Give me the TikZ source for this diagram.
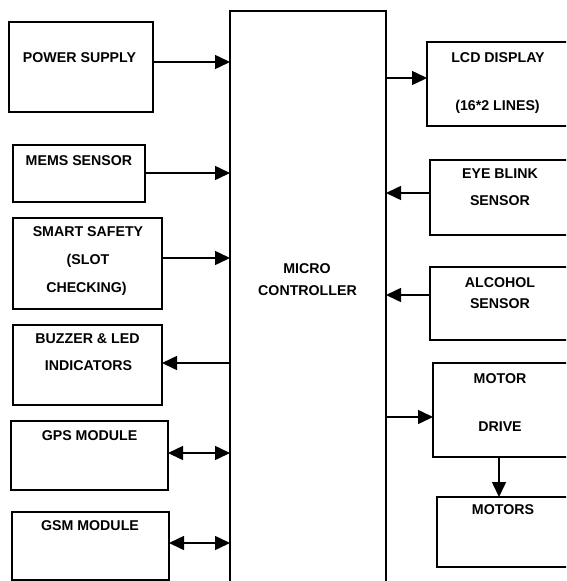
\documentclass[tikz,border=0pt]{standalone}
\usepackage{fontspec}
\setmainfont{Liberation Sans}
\usetikzlibrary{arrows.meta}
\tikzset{
  blk/.style={draw=black, line width=1.2pt, inner sep=0pt, outer sep=0pt},
  lbl/.style={font=\fontsize{14.2}{17}\selectfont\bfseries, inner sep=0pt, anchor=center},
  arr/.style={line width=1.5pt, -{Triangle[length=15pt,width=14pt]}},
  darr/.style={line width=1.5pt, {Triangle[length=15pt,width=14pt]}-{Triangle[length=15pt,width=14pt]}}
}
\begin{document}
\begin{tikzpicture}[x=1pt,y=-1pt]
\useasboundingbox (0,0) rectangle (566,581);
\clip (0,0) rectangle (566,581);
\fill[white] (0,0) rectangle (566,581);
% boxes
\node[blk, minimum width=144pt, minimum height=90pt] (ps) at (81,67) {};
\node[blk, minimum width=132pt, minimum height=57pt] (mems) at (79,173.5) {};
\node[blk, minimum width=149pt, minimum height=91pt] (ss) at (87.5,263.5) {};
\node[blk, minimum width=149pt, minimum height=80pt] (bz) at (87.5,365) {};
\node[blk, minimum width=157pt, minimum height=69pt] (gps) at (89.5,455.5) {};
\node[blk, minimum width=157pt, minimum height=68pt] (gsm) at (90.5,546) {};
\node[blk, minimum width=156pt, minimum height=579pt] (mc) at (308,300.5) {};
\node[blk, minimum width=141pt, minimum height=84pt] (lcd) at (497.5,84) {};
\node[blk, minimum width=138pt, minimum height=75pt] (eye) at (499,197.5) {};
\node[blk, minimum width=138pt, minimum height=73pt] (alc) at (499,303.5) {};
\node[blk, minimum width=135pt, minimum height=94pt] (md) at (500.5,410) {};
\node[blk, minimum width=131pt, minimum height=70pt] (mot) at (502.5,532) {};
% texts
\node[lbl] (t1) at (79.5,58) {POWER SUPPLY};
\node[lbl] (t2) at (79,161) {MEMS SENSOR};
\node[lbl] (t3a) at (88,232) {SMART SAFETY};
\node[lbl] (t3b) at (88,261) {(SLOT};
\node[lbl] (t3c) at (86.5,289) {CHECKING)};
\node[lbl] (t4a) at (87.5,339) {BUZZER \& LED};
\node[lbl] (t4b) at (88.5,366) {INDICATORS};
\node[lbl] (t5) at (89.5,436) {GPS MODULE};
\node[lbl] (t6) at (90,526) {GSM MODULE};
\node[lbl] (t7a) at (307,268.5) {MICRO};
\node[lbl] (t7b) at (307.5,290.5) {CONTROLLER};
\node[lbl] (t8a) at (498,58) {LCD DISPLAY};
\node[lbl] (t8b) at (497.5,107) {(16*2 LINES)};
\node[lbl] (t9a) at (500,174) {EYE BLINK};
\node[lbl] (t9b) at (500,201) {SENSOR};
\node[lbl] (t10a) at (500,283) {ALCOHOL};
\node[lbl] (t10b) at (500,304) {SENSOR};
\node[lbl] (t11a) at (500,379) {MOTOR};
\node[lbl] (t11b) at (500,427) {DRIVE};
\node[lbl] (t12) at (503,510) {MOTORS};
% connectors
\draw[arr] (ps.east |- 0,62) -- (mc.west |- 0,62);
\draw[arr] (mems.east |- 0,173) -- (mc.west |- 0,173);
\draw[arr] (ss.east |- 0,258) -- (mc.west |- 0,258);
\draw[arr] (mc.west |- 0,363) -- (bz.east |- 0,363);
\draw[darr] (gps.east |- 0,453) -- (mc.west |- 0,453);
\draw[darr] (gsm.east |- 0,543) -- (mc.west |- 0,543);
\draw[arr] (mc.east |- 0,78) -- (lcd.west |- 0,78);
\draw[arr] (eye.west |- 0,193) -- (mc.east |- 0,193);
\draw[arr] (alc.west |- 0,295) -- (mc.east |- 0,295);
\draw[arr] (mc.east |- 0,417) -- (md.west |- 0,417);
\draw[arr] (md.south -| 499,0) -- (mot.north -| 499,0);
\end{tikzpicture}
\end{document}
